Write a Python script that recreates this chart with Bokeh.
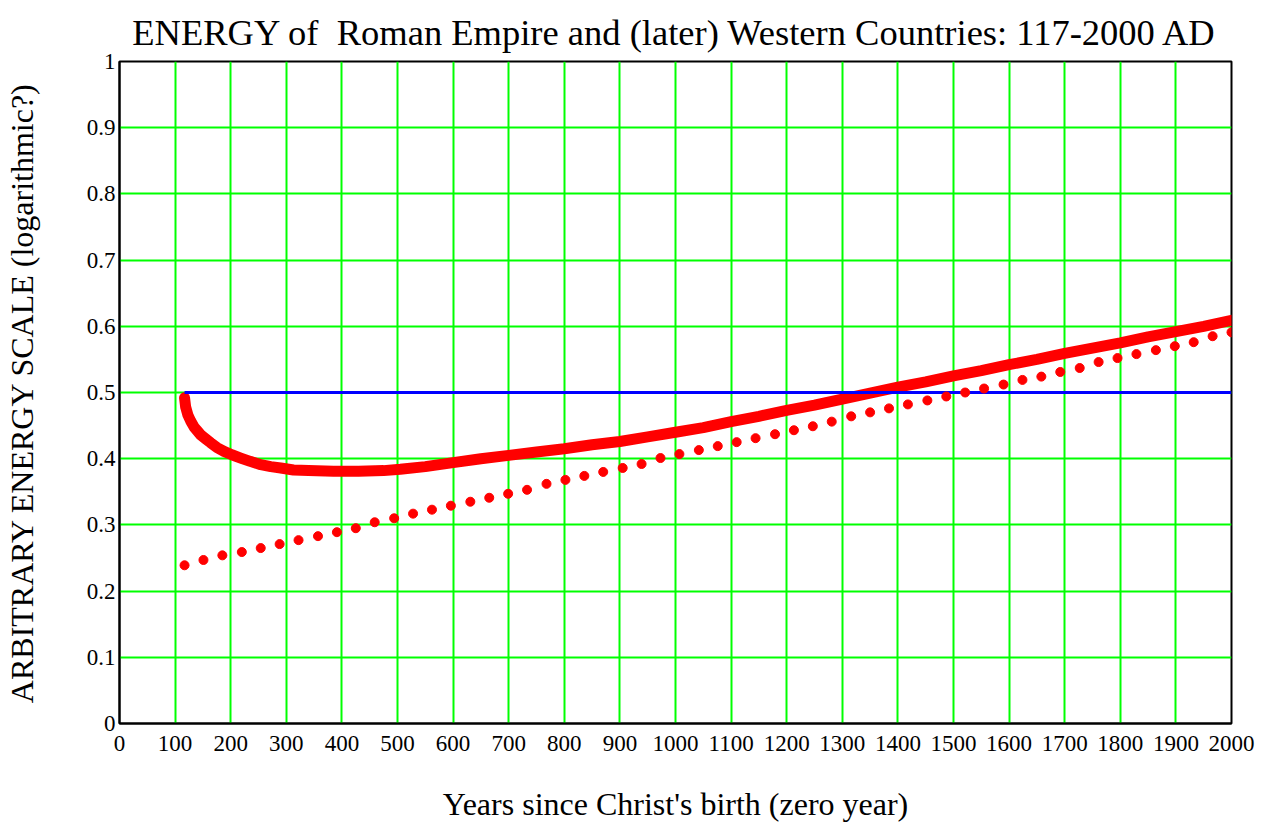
from bokeh.plotting import figure
from bokeh.models import Range1d, FixedTicker
from bokeh.embed import file_html
from bokeh.resources import INLINE

# ---- data ----
curve_years = [117, 119, 123, 128, 134, 140, 146, 155, 164, 175, 188, 202, 218, 235, 254,
               272, 290, 313, 340, 385, 430, 475, 505, 550, 600, 650, 700, 750, 800, 850,
               900, 950, 1000, 1050, 1100, 1150, 1200, 1250, 1300, 1350, 1400, 1450, 1500,
               1550, 1600, 1650, 1700, 1750, 1800, 1850, 1900, 1950, 2000]
curve_energy = [0.492, 0.478, 0.466, 0.457, 0.448, 0.442, 0.436, 0.430, 0.424, 0.417, 0.411,
                0.406, 0.401, 0.396, 0.391, 0.388, 0.386, 0.383, 0.382, 0.381, 0.381, 0.382,
                0.384, 0.388, 0.394, 0.400, 0.405, 0.410, 0.415, 0.421, 0.426, 0.433, 0.440,
                0.447, 0.456, 0.464, 0.473, 0.481, 0.490, 0.499, 0.508, 0.516, 0.525, 0.533,
                0.542, 0.550, 0.559, 0.567, 0.575, 0.584, 0.592, 0.600, 0.609]

dot_years = [117, 151, 185, 220, 254, 288, 322, 357, 391, 425, 459, 494, 528, 562, 596, 631,
             665, 699, 733, 768, 802, 836, 870, 905, 939, 973, 1007, 1042, 1076, 1110, 1144,
             1179, 1213, 1247, 1281, 1316, 1350, 1384, 1418, 1453, 1487, 1521, 1555, 1590,
             1624, 1658, 1692, 1727, 1761, 1795, 1829, 1864, 1898, 1932, 1966, 2000]
dot_energy = [0.239, 0.247, 0.254, 0.259, 0.265, 0.271, 0.277, 0.283, 0.289, 0.295, 0.304,
              0.310, 0.317, 0.323, 0.329, 0.335, 0.341, 0.347, 0.353, 0.362, 0.368, 0.374,
              0.380, 0.386, 0.392, 0.401, 0.407, 0.413, 0.419, 0.425, 0.431, 0.437, 0.443,
              0.449, 0.456, 0.464, 0.470, 0.476, 0.482, 0.488, 0.494, 0.500, 0.506, 0.512,
              0.519, 0.524, 0.531, 0.537, 0.546, 0.552, 0.558, 0.564, 0.570, 0.576, 0.585,
              0.591]

ref_years = [117, 2000]
ref_energy = [0.5, 0.5]

x_ticks = [0, 100, 200, 300, 400, 500, 600, 700, 800, 900, 1000, 1100, 1200, 1300, 1400,
           1500, 1600, 1700, 1800, 1900, 2000]
y_ticks = [0, 0.1, 0.2, 0.3, 0.4, 0.5, 0.6, 0.7, 0.8, 0.9, 1]

FONT = "Liberation Serif"

p = figure(width=1274, height=824, output_backend="svg", toolbar_location=None,
           x_range=Range1d(0, 2000), y_range=Range1d(0, 1),
           title="ENERGY of\u00a0 Roman Empire and (later) Western Countries: 117-2000 AD",
           min_border_left=119, min_border_right=43, min_border_top=61, min_border_bottom=100)

p.title.text_font = FONT
p.title.text_font_size = "36.5px"
p.title.text_font_style = "normal"
p.title.align = "center"
p.title.offset = 6
p.title.text_color = "black"
p.title.standoff = 17

p.background_fill_color = "white"
p.border_fill_color = "white"
p.outline_line_color = "black"
p.outline_line_width = 2
p.outline_line_alpha = 1

for ax in (p.xaxis[0], p.yaxis[0]):
    ax.axis_line_color = "black"
    ax.axis_line_width = 2
    ax.major_tick_line_color = None
    ax.minor_tick_line_color = None
    ax.major_tick_out = 0
    ax.major_tick_in = 0
    ax.major_label_text_font = FONT
    ax.major_label_text_font_size = "23px"
    ax.major_label_text_color = "black"
    ax.axis_label_text_font = FONT
    ax.axis_label_text_font_size = "32px"
    ax.axis_label_text_font_style = "normal"
    ax.axis_label_text_color = "black"

p.xaxis.ticker = FixedTicker(ticks=x_ticks)
p.yaxis.ticker = FixedTicker(ticks=y_ticks)
p.yaxis.major_label_overrides = {0: "0", 1: "1"}
p.xaxis.major_label_standoff = 12
p.yaxis.major_label_standoff = 4
p.xaxis.axis_label = "Years since Christ's birth (zero year)"
p.yaxis.axis_label = "ARBITRARY ENERGY SCALE (logarithmic?)"
p.xaxis.axis_label_standoff = 32
p.yaxis.axis_label_standoff = 44

p.xgrid.grid_line_color = "#00ff00"
p.ygrid.grid_line_color = "#00ff00"
p.xgrid.grid_line_width = 2
p.ygrid.grid_line_width = 2

p.line(curve_years, curve_energy, line_width=11, color="#ff0000",
       line_join="round", line_cap="round")
p.line(ref_years, ref_energy, line_width=3, color="#0000ff")
p.scatter(dot_years, dot_energy, size=9, color="#ff0000")

open("out.html", "w").write(file_html(p, INLINE))
